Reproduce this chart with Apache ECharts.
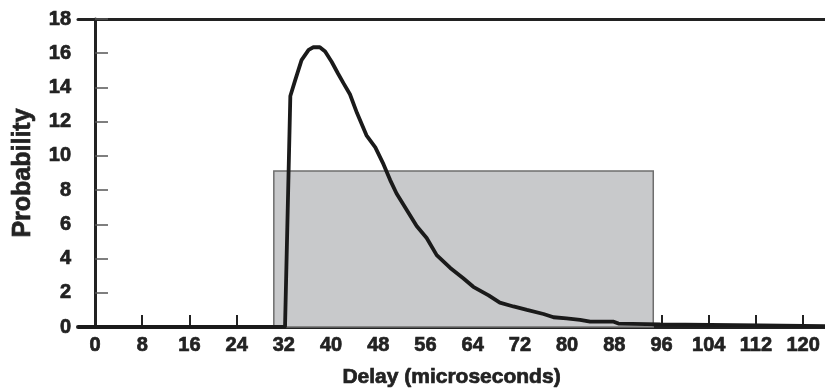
<!DOCTYPE html>
<html>
<head>
<meta charset="utf-8">
<script src="https://cdn.jsdelivr.net/npm/echarts@6/dist/echarts.min.js"></script>
<style>html,body{margin:0;padding:0;background:#fff}#c{width:825px;height:388px}</style>
</head>
<body>
<div id="c"></div>
<script>
// Data
var delay = [-2.88, 32.2, 33.1, 33.9, 35.0, 36.2, 37.0, 38.1, 39.0, 40.1, 41.2, 42.1, 43.2, 44.4, 46.0, 47.5, 48.9, 50.0, 51.1, 52.8, 54.5, 56.2, 57.9, 60.2, 62.4, 64.1, 66.7, 68.6, 70.9, 73.2, 76.0, 77.7, 79.9, 82.2, 83.9, 87.9, 88.7, 95.8, 112.7, 123.7];
var probability = [0, 0, 13.5, 14.4, 15.6, 16.2, 16.35, 16.35, 16.1, 15.5, 14.8, 14.25, 13.6, 12.5, 11.2, 10.5, 9.5, 8.6, 7.8, 6.85, 5.9, 5.2, 4.2, 3.45, 2.85, 2.35, 1.85, 1.42, 1.2, 1.0, 0.76, 0.57, 0.5, 0.42, 0.31, 0.31, 0.2, 0.15, 0.1, 0.05];
var xTicks = [0, 8, 16, 24, 32, 40, 48, 56, 64, 72, 80, 88, 96, 104, 112, 120];
var boxStart = 30.3, boxEnd = 94.6, boxHeight = 9.12;

var pts = delay.map(function (d, i) { return [d, probability[i]]; });
var chart = echarts.init(document.getElementById('c'), null, {renderer: 'canvas'});
var font = 'Liberation Sans, Arial, sans-serif';
var heavy = {textBorderColor: '#222', textBorderWidth: 0.7};
chart.setOption({
  animation: false,
  backgroundColor: '#fff',
  grid: {left: 78, right: 0, top: 19, bottom: 61, containLabel: false, outerBoundsMode: 'none'},
  xAxis: [{
    type: 'value', min: -2.88, max: 123.7, position: 'bottom',
    name: 'Delay (microseconds)', nameLocation: 'middle', nameGap: 40,
    nameTextStyle: Object.assign({fontFamily: font, fontWeight: 'bold', fontSize: 21, color: '#222'}, heavy),
    axisLine: {show: true, onZero: false, lineStyle: {color: '#222', width: 4}},
    axisTick: {show: true, inside: true, length: 12, customValues: xTicks, lineStyle: {color: '#222', width: 2}},
    axisLabel: Object.assign({customValues: xTicks, margin: 8, fontFamily: font, fontWeight: 'bold', fontSize: 20, color: '#222'}, heavy),
    splitLine: {show: false}
  }, {
    type: 'value', min: -2.88, max: 123.7, position: 'top',
    axisLine: {show: true, onZero: false, lineStyle: {color: '#222', width: 3}},
    axisTick: {show: false}, axisLabel: {show: false}, splitLine: {show: false}
  }],
  yAxis: {
    type: 'value', min: 0, max: 18, interval: 2,
    name: 'Probability', nameLocation: 'middle', nameGap: 42, nameRotate: 90,
    nameTextStyle: Object.assign({fontFamily: font, fontWeight: 'bold', fontSize: 25, color: '#222'}, heavy),
    axisLine: {show: true, lineStyle: {color: '#222', width: 3}},
    axisTick: {show: true, inside: true, length: 13, lineStyle: {color: '#555', width: 1.5}},
    axisLabel: Object.assign({margin: 7, fontFamily: font, fontWeight: 'bold', fontSize: 20, color: '#222'}, heavy),
    splitLine: {show: false}
  },
  series: [{
    type: 'line', data: [], silent: true, z: 1,
    markArea: {
      silent: true,
      itemStyle: {color: '#c8c9cb', borderColor: '#6e6e6e', borderWidth: 1.5},
      data: [[{xAxis: boxStart, yAxis: 0}, {xAxis: boxEnd, yAxis: boxHeight}]]
    }
  }, {
    type: 'line', data: pts, symbol: 'none', smooth: false, z: 5,
    lineStyle: {color: '#1a1a1a', width: 3.8}
  }]
});
</script>
</body>
</html>
